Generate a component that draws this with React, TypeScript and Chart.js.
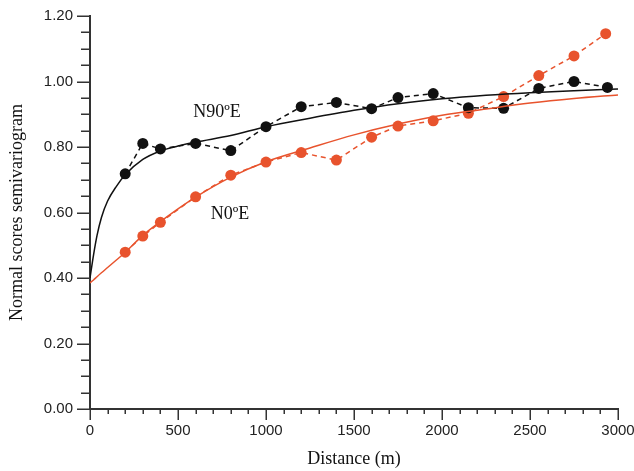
import React, { useEffect, useRef } from "react";
import { Chart, registerables } from "chart.js";

Chart.register(...registerables);

// Experimental semivariogram points
const n90Dist = [200, 300, 400, 600, 800, 1000, 1200, 1400, 1600, 1750, 1950, 2150, 2350, 2550, 2750, 2940];
const n90Exp = [0.718, 0.811, 0.794, 0.811, 0.789, 0.862, 0.923, 0.936, 0.917, 0.951, 0.963, 0.920, 0.918, 0.979, 1.0, 0.982];
const n0Dist = [200, 300, 400, 600, 800, 1000, 1200, 1400, 1600, 1750, 1950, 2150, 2350, 2550, 2750, 2930];
const n0Exp = [0.479, 0.528, 0.570, 0.648, 0.714, 0.754, 0.783, 0.760, 0.830, 0.864, 0.880, 0.903, 0.954, 1.018, 1.078, 1.146];

// Fitted models
const modelDist = [0, 20, 40, 65, 100, 150, 200, 300, 400, 500, 600, 800, 1000, 1250, 1500, 1750, 2000, 2250, 2500, 2750, 3000];
const n90Model = [0.40, 0.47, 0.53, 0.585, 0.635, 0.68, 0.715, 0.762, 0.788, 0.803, 0.815, 0.835, 0.862, 0.888, 0.912, 0.932, 0.947, 0.958, 0.966, 0.972, 0.977];
const n0Model = [0.385, 0.394, 0.404, 0.416, 0.432, 0.455, 0.478, 0.530, 0.572, 0.611, 0.647, 0.708, 0.755, 0.797, 0.837, 0.870, 0.897, 0.916, 0.934, 0.948, 0.959];

// Tick labels
const xTickLabels = ["0", "500", "1000", "1500", "2000", "2500", "3000"];
const yTickLabels = ["0.00", "0.20", "0.40", "0.60", "0.80", "1.00", "1.20"];

// Annotation labels
const seriesLabels = ["N90\u00baE", "N0\u00baE"];
const labelX = [722, 795];
const labelY = [0.907, 0.595];

const xTitle = "Distance (m)";
const yTitle = "Normal scores semivariogram";

const BLACK = "#111111";
const RED = "#E8532D";
const AXIS = "#333333";

const toPts = (xs: number[], ys: number[]) => xs.map((x, i) => ({ x, y: ys[i] }));

const isMult = (v: number, step: number) => Math.abs(v / step - Math.round(v / step)) < 1e-6;

const decorPlugin = {
  id: "decor",
  afterDraw(chart: any) {
    const ctx = chart.ctx;
    const xs = chart.scales.x;
    const ys = chart.scales.y;
    const area = chart.chartArea;
    ctx.save();
    // ticks
    ctx.strokeStyle = AXIS;
    ctx.lineWidth = 1.5;
    ctx.beginPath();
    ys.ticks.forEach((t: any) => {
      const py = Math.round(ys.getPixelForValue(t.value)) + 0.25;
      const len = isMult(t.value, 0.2) ? 13 : 9;
      ctx.moveTo(area.left - len, py);
      ctx.lineTo(area.left, py);
    });
    xs.ticks.forEach((t: any) => {
      const px = Math.round(xs.getPixelForValue(t.value)) + 0.25;
      const len = isMult(t.value, 500) ? 11 : 5;
      ctx.moveTo(px, area.bottom);
      ctx.lineTo(px, area.bottom + len);
    });
    ctx.stroke();

    // axis titles
    ctx.fillStyle = "#111";
    ctx.font = "18px 'Liberation Serif', serif";
    ctx.textAlign = "center";
    ctx.textBaseline = "middle";
    ctx.fillText(xTitle, (area.left + area.right) / 2, 459);
    ctx.save();
    ctx.translate(17, (area.top + area.bottom) / 2);
    ctx.rotate(-Math.PI / 2);
    ctx.fillText(yTitle, 0, 0);
    ctx.restore();

    // series annotations
    seriesLabels.forEach((s, i) => {
      ctx.fillText(s, xs.getPixelForValue(labelX[i]), ys.getPixelForValue(labelY[i]));
    });
    ctx.restore();
  },
};

export default function App() {
  const ref = useRef<HTMLCanvasElement | null>(null);
  useEffect(() => {
    document.body.style.margin = "0";
    if (!ref.current) return;
    const chart = new Chart(ref.current, {
      type: "line",
      data: {
        datasets: [
          {
            label: "N90E model",
            data: toPts(modelDist, n90Model),
            borderColor: BLACK,
            borderWidth: 1.5,
            pointRadius: 0,
            cubicInterpolationMode: "monotone",
            fill: false,
          },
          {
            label: "N0E model",
            data: toPts(modelDist, n0Model),
            borderColor: RED,
            borderWidth: 1.5,
            pointRadius: 0,
            cubicInterpolationMode: "monotone",
            fill: false,
          },
          {
            label: "N90E",
            data: toPts(n90Dist, n90Exp),
            borderColor: BLACK,
            backgroundColor: BLACK,
            borderWidth: 1.5,
            borderDash: [5, 4],
            pointRadius: 5.5,
            pointBorderWidth: 0,
            pointBackgroundColor: BLACK,
            fill: false,
          },
          {
            label: "N0E",
            data: toPts(n0Dist, n0Exp),
            borderColor: RED,
            backgroundColor: RED,
            borderWidth: 1.5,
            borderDash: [5, 4],
            pointRadius: 5.5,
            pointBorderWidth: 0,
            pointBackgroundColor: RED,
            fill: false,
          },
        ],
      },
      options: {
        animation: false,
        responsive: true,
        maintainAspectRatio: false,
        layout: { padding: { top: 16, right: 16, left: 0, bottom: 0 } },
        plugins: { legend: { display: false }, tooltip: { enabled: false }, title: { display: false } },
        scales: {
          x: {
            type: "linear",
            min: 0,
            max: 3000,
            afterFit: (s: any) => {
              s.height = 62;
              s.paddingRight = 0;
              s.paddingLeft = 0;
            },
            border: { display: true, color: AXIS, width: 2 },
            grid: { display: true, drawOnChartArea: false, drawTicks: true, tickLength: 11, color: "rgba(0,0,0,0)" },
            ticks: {
              stepSize: 100,
              autoSkip: false,
              maxRotation: 0,
              padding: 2,
              color: "#222",
              font: { family: "'Liberation Sans', Arial, sans-serif", size: 15 },
              callback: (v: any) => (isMult(Number(v), 500) ? xTickLabels[Math.round(Number(v) / 500)] : ""),
            },
          },
          y: {
            type: "linear",
            min: 0,
            max: 1.2,
            afterFit: (s: any) => {
              s.width = 90;
              s.paddingTop = 0;
              s.paddingBottom = 0;
            },
            border: { display: true, color: AXIS, width: 2 },
            grid: { display: true, drawOnChartArea: false, drawTicks: true, tickLength: 13, color: "rgba(0,0,0,0)" },
            ticks: {
              stepSize: 0.05,
              autoSkip: false,
              padding: 4,
              color: "#222",
              font: { family: "'Liberation Sans', Arial, sans-serif", size: 15 },
              callback: (v: any) => (isMult(Number(v), 0.2) ? yTickLabels[Math.round(Number(v) / 0.2)] : ""),
            },
          },
        },
      },
      plugins: [decorPlugin],
    });
    return () => chart.destroy();
  }, []);
  return (
    <div style={{ position: "relative", width: 634, height: 471 }}>
      <canvas ref={ref} />
    </div>
  );
}
